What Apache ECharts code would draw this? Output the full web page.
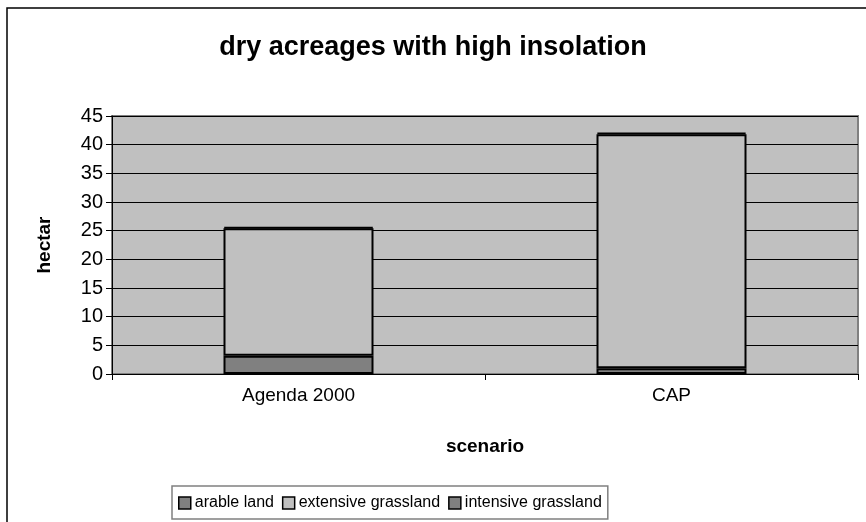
<!DOCTYPE html>
<html>
<head>
<meta charset="utf-8">
<script src="https://cdn.jsdelivr.net/npm/echarts@6/dist/echarts.min.js"></script>
<style>
  html, body { margin: 0; padding: 0; background: #fff; }
  #chart { width: 866px; height: 522px; }
</style>
</head>
<body>
<div id="chart"></div>
<script>
// 数据
var scenarios = ['Agenda 2000', 'CAP'];
var arableLand = [3.2, 1.0];
var extensiveGrassland = [22.2, 40.8];
var intensiveGrassland = [0.25, 0.3];

var font = '"Liberation Sans", Arial, sans-serif';

function makeSeries(name, data, color) {
    return {
        name: name,
        type: 'bar',
        stack: 'total',
        barWidth: 150,
        data: data,
        itemStyle: {
            color: color,
            borderColor: '#000',
            borderWidth: 2
        }
    };
}

var myChart = echarts.init(document.getElementById('chart'));
var option = {
    backgroundColor: '#fff',
    animation: false,
    title: {
        text: 'dry acreages with high insolation',
        left: 'center',
        top: 29,
        textStyle: { fontFamily: font, fontSize: 27, fontWeight: 'bold', color: '#000' }
    },
    graphic: [{
        type: 'rect',
        shape: { x: 7, y: 8, width: 900, height: 600 },
        style: { fill: 'none', stroke: '#000', lineWidth: 1.5 },
        silent: true
    }],
    grid: {
        left: 112,
        right: 8,
        top: 116,
        bottom: 148,
        show: true,
        backgroundColor: '#c0c0c0',
        borderColor: '#808080',
        borderWidth: 2
    },
    legend: {
        bottom: 3,
        left: 172,
        itemWidth: 12,
        itemHeight: 12,
        itemGap: 8,
        padding: [9, 6, 8, 6],
        borderColor: '#808080',
        borderWidth: 1.5,
        icon: 'rect',
        textStyle: { fontFamily: font, fontSize: 16, color: '#000', padding: [0, 0, 0, -1] },
        itemStyle: { borderColor: '#000', borderWidth: 1.5 },
        data: ['arable land', 'extensive grassland', 'intensive grassland']
    },
    xAxis: {
        type: 'category',
        data: scenarios,
        name: 'scenario',
        nameLocation: 'middle',
        nameGap: 63,
        nameTextStyle: { fontFamily: font, fontSize: 19, fontWeight: 'bold', color: '#000' },
        axisLine: { lineStyle: { color: '#000', width: 1 } },
        axisTick: { show: true, length: 6, lineStyle: { color: '#000' } },
        axisLabel: { fontFamily: font, fontSize: 19, color: '#000', margin: 12 }
    },
    yAxis: {
        type: 'value',
        min: 0,
        max: 45,
        interval: 5,
        name: 'hectar',
        nameLocation: 'middle',
        nameGap: 58,
        nameTextStyle: { fontFamily: font, fontSize: 19, fontWeight: 'bold', color: '#000' },
        axisLine: { show: true, lineStyle: { color: '#000', width: 1 } },
        axisTick: { show: true, length: 6, lineStyle: { color: '#000' } },
        axisLabel: { fontFamily: font, fontSize: 20, color: '#000', margin: 9 },
        splitLine: { show: true, lineStyle: { color: '#000', width: 1 } }
    },
    series: [
        makeSeries('arable land', arableLand, '#808080'),
        makeSeries('extensive grassland', extensiveGrassland, '#c0c0c0'),
        makeSeries('intensive grassland', intensiveGrassland, '#808080')
    ]
};
myChart.setOption(option, true);
</script>
</body>
</html>
